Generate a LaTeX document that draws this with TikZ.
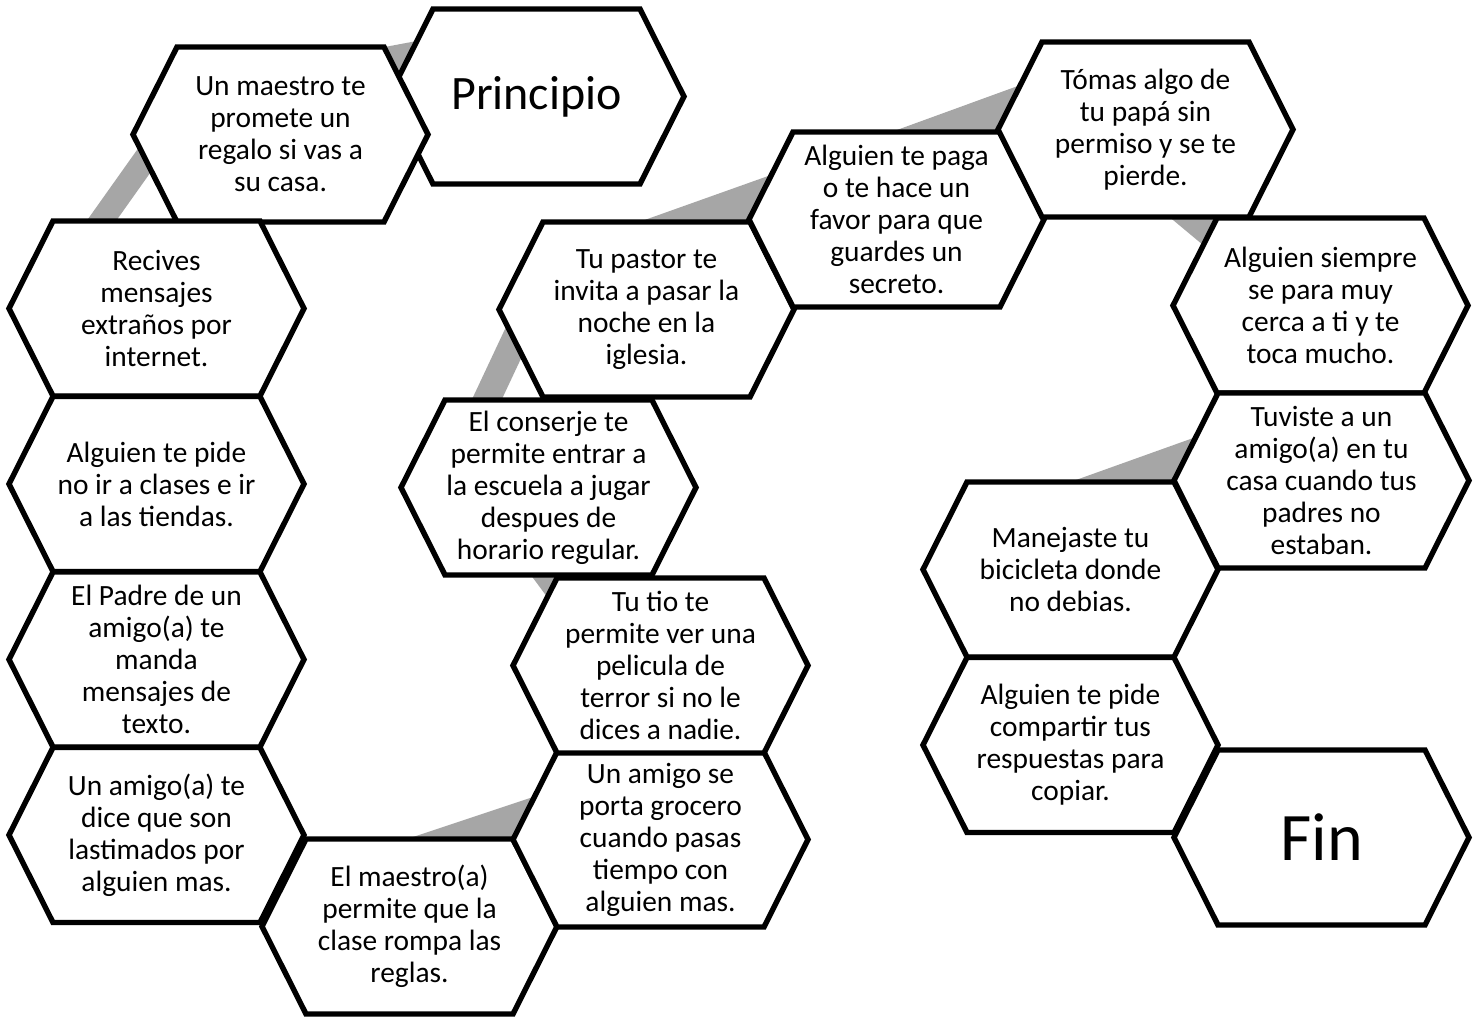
\documentclass[tikz,border=0pt]{standalone}
\usepackage{fontspec}
\setmainfont{Carlito}
\usetikzlibrary{calc}
\pgfdeclarelayer{bg}
\pgfsetlayers{bg,main}
\definecolor{conngray}{RGB}{166,166,166}
\newcommand\hexnode[3]{%
  \filldraw[hexline] (#2) ++(-147.5,0) -- ++(44,-87.5) -- ++(207,0) -- ++(44,87.5) -- ++(-44,87.5) -- ++(-207,0) -- cycle;
  \node[hextext] (#1) at (#2) {#3};
}
\begin{document}
\begin{tikzpicture}[x=0.5pt,y=-0.5pt,
  hexline/.style={draw=black, fill=white, line width=2.7pt, line join=miter},
  hextext/.style={align=center, inner sep=0pt, font=\fontsize{14.7}{16}\selectfont, text=black},
  conn/.style={draw=conngray, line width=#1}]
\useasboundingbox (0,0) rectangle (1479,1017);
\begin{pgfonlayer}{bg}
\fill[white] (0,0) rectangle (1479,1017);
\end{pgfonlayer}

\hexnode{pr}{536.5,96.5}{\fontsize{24}{28}\selectfont Principio}
\hexnode{um}{280.5,134.5}{Un maestro te\\promete un\\regalo si vas a\\su casa.}
\hexnode{rc}{156.5,308.5}{Recives\\mensajes\\extraños por\\internet.}
\hexnode{ap}{156.5,484}{Alguien te pide\\no ir a clases e ir\\a las tiendas.}
\hexnode{ep}{156.5,659.5}{El Padre de un\\amigo(a) te\\manda\\mensajes de\\texto.}
\hexnode{ad}{156.5,835}{Un amigo(a) te\\dice que son\\lastimados por\\alguien mas.}
\hexnode{em}{409.5,926.5}{El maestro(a)\\permite que la\\clase rompa las\\reglas.}
\hexnode{asp}{660.5,839.5}{Un amigo se\\porta grocero\\cuando pasas\\tiempo con\\alguien mas.}
\hexnode{tt}{660.5,665.5}{Tu tio te\\permite ver una\\pelicula de\\terror si no le\\dices a nadie.}
\hexnode{ec}{548.5,487.5}{\fontsize{14.7}{15.5}\selectfont El conserje te\\permite entrar a\\la escuela a jugar\\despues de\\horario regular.}
\hexnode{tp}{646.5,309.5}{Tu pastor te\\invita a pasar la\\noche en la\\iglesia.}
\hexnode{pg}{896.5,219.5}{Alguien te paga\\o te hace un\\favor para que\\guardes un\\secreto.}
\hexnode{tm}{1145.5,129.5}{Tómas algo de\\tu papá sin\\permiso y se te\\pierde.}
\hexnode{as}{1320.5,305.5}{Alguien siempre\\se para muy\\cerca a ti y te\\toca mucho.}
\hexnode{tv}{1321.5,480.5}{Tuviste a un\\amigo(a) en tu\\casa cuando tus\\padres no\\estaban.}
\hexnode{mj}{1070.5,569.5}{Manejaste tu\\bicicleta donde\\no debias.}
\hexnode{cp}{1070.5,745}{Alguien te pide\\compartir tus\\respuestas para\\copiar.}
\hexnode{fin}{1321.5,837.5}{\fontsize{34}{40}\selectfont Fin}

\begin{pgfonlayer}{bg}
\draw[conn=20pt] ([shift={(-0.5,-47.5)}]um.center) -- ([shift={(-0.5,-57.5)}]pr.center);
\draw[conn=12pt] ([shift={(-107.5,-14.5)}]um.center) -- ([shift={(-90,-38.5)}]rc.center);
\draw[conn=25pt] ([shift={(-69.5,-38.8)}]em.center) -- ([shift={(-20.5,-51.8)}]asp.center);
\draw[conn=15pt] ([shift={(-24.9,52.5)}]ec.center) -- ([shift={(-62.9,-25.5)}]tt.center);
\draw[conn=13.5pt] ([shift={(-80.7,-47.5)}]ec.center) -- ([shift={(-105.9,-24.5)}]tp.center);
\draw[conn=25pt] ([shift={(-26.5,-54.2)}]tp.center) -- ([shift={(-46.5,-46.1)}]pg.center);
\draw[conn=25pt] ([shift={(-26.5,-53.1)}]pg.center) -- ([shift={(-45.5,-46.8)}]tm.center);
\draw[conn=15pt] ([shift={(6.4,53.4)}]tm.center) -- ([shift={(-84.1,-52.2)}]as.center);
\draw[conn=25pt] ([shift={(-41.5,-47)}]tv.center) -- ([shift={(-30.5,-50.1)}]mj.center);
\end{pgfonlayer}
\end{tikzpicture}
\end{document}
